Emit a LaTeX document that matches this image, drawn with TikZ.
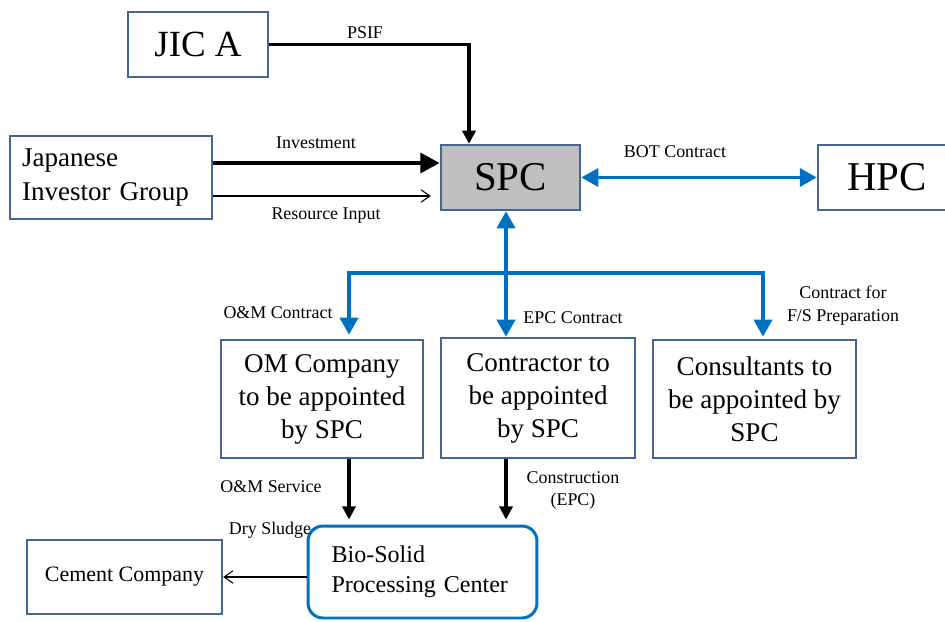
\documentclass[tikz,border=0pt]{standalone}
\usepackage{fontspec}
\setmainfont{Liberation Serif}
\usetikzlibrary{arrows.meta,positioning}
\definecolor{boxblue}{HTML}{41669A}
\definecolor{linkblue}{HTML}{0070C0}
\definecolor{spcgray}{HTML}{BFBFBF}

\begin{document}
\begin{tikzpicture}[x=0.02cm, y=-0.02cm,
    every node/.style={align=center},
    orgbox/.style={draw=boxblue, line width=1.4pt, fill=white, inner sep=0pt,
                   font=\fontsize{15.4}{18.8}\selectfont},
    bigbox/.style={orgbox, minimum height=1.3cm, font=\fontsize{23.3}{26}\selectfont},
    lbl/.style={font=\fontsize{10.2}{13}\selectfont, inner sep=0pt},
    flow/.style={line width=2.2pt, -{Triangle[length=7.5pt, width=7.5pt]}},
    invest/.style={line width=2.8pt, -{Triangle[length=11pt, width=11pt]}},
    thinflow/.style={line width=0.6pt, -{Straight Barb[length=5pt, width=7pt]}},
    blink/.style={draw=linkblue, line width=2.2pt, -{Triangle[length=9.7pt, width=10.2pt]}},
    bothlink/.style={draw=linkblue, line width=2.2pt,
                     {Triangle[length=9.7pt, width=10.2pt]}-{Triangle[length=9.7pt, width=10.2pt]}}
]
\useasboundingbox (0,0) rectangle (945,621);

\node[orgbox, minimum width=2.8cm, minimum height=1.3cm, font=\fontsize{21}{24}\selectfont] (jica) at (198,44.5) {JIC A};
\node[orgbox, text width=3.56cm, inner xsep=0.24cm, minimum height=1.66cm, align=left,
      font=\fontsize{15.4}{19.3}\selectfont] (investor) at (111,177.5) {Japanese\\Investor Group};
\node[bigbox, fill=spcgray, minimum width=2.78cm] (spc) at (510.5,177.5) {SPC};
\node[bigbox, minimum width=2.76cm] (hpc) at (887,177.5) {HPC};

\node[orgbox, minimum width=4.04cm, minimum height=2.36cm] (omco) at (322,399) {OM Company\\to be appointed\\by SPC};
\node[orgbox, minimum width=3.88cm, minimum height=2.4cm] (contractor) at (538,398) {Contractor to\\be appointed\\by SPC};
\node[orgbox, minimum width=4.06cm, minimum height=2.36cm] (consultant) at (754.5,399) {Consultants to\\be appointed by\\SPC};

\node[orgbox, draw=linkblue, line width=1.7pt, rounded corners=0.3cm, text width=3.64cm, inner xsep=0.47cm,
      minimum height=1.84cm, align=left, font=\fontsize{13.7}{17}\selectfont] (biosolid) at (422.5,572) {Bio-Solid\\Processing Center};
\node[orgbox, minimum width=3.9cm, minimum height=1.48cm, font=\fontsize{12.5}{15}\selectfont] (cement) at (124.5,577) {Cement Company};

\node[lbl] (psiflbl) at (365,33) {PSIF};
\node[lbl] (investlbl) at (316,143) {Investment};
\node[lbl] (resourcelbl) at (326,216) {Resource Input};
\node[lbl] (botlbl) at (675,152) {BOT Contract};
\node[lbl] (omlbl) at (278,313) {O\&M Contract};
\node[lbl] (epclbl) at (573,318) {EPC Contract};
\node[lbl] (fslbl) at (843,305.5) {Contract for\\F/S Preparation};
\node[lbl] (servicelbl) at (271,487) {O\&M Service};
\node[lbl] (constrlbl) at (573,490.5) {Construction\\(EPC)};
\node[lbl] (sludgelbl) at (270,530) {Dry Sludge};

\coordinate (hub) at (506,273);
\coordinate (omtop) at ([xshift=0.54cm]omco.north);
\coordinate (omdrop) at ([xshift=0.54cm]omco.south);
\coordinate (fstop) at ([xshift=0.17cm]consultant.north);
\coordinate (psifend) at ([xshift=-0.83cm]spc.north);
\coordinate (investstart) at ([yshift=0.29cm]investor.east);
\coordinate (resourcestart) at ([yshift=-0.37cm]investor.east);

\draw[flow] (jica.east) -| (psifend);
\draw[invest] (investstart) -- (investstart -| spc.west);
\draw[thinflow, shorten >=0.18cm] (resourcestart) -- (resourcestart -| spc.west);
\draw[bothlink] (spc.east) -- (hpc.west);

\draw[blink] (hub) -- (hub |- spc.south);
\draw[blink, shorten >=0.08cm] (hub) -| (omtop);
\draw[blink] (hub) -- (hub |- contractor.north);
\draw[blink, shorten >=0.04cm] (hub) -| (fstop);

\draw[flow, shorten >=0.1cm] (omdrop) -- (omdrop |- biosolid.north);
\draw[flow, shorten >=0.1cm] (hub |- contractor.south) -- (hub |- biosolid.north);
\draw[thinflow] (biosolid.west |- cement.east) -- (cement.east);
\end{tikzpicture}
\end{document}
